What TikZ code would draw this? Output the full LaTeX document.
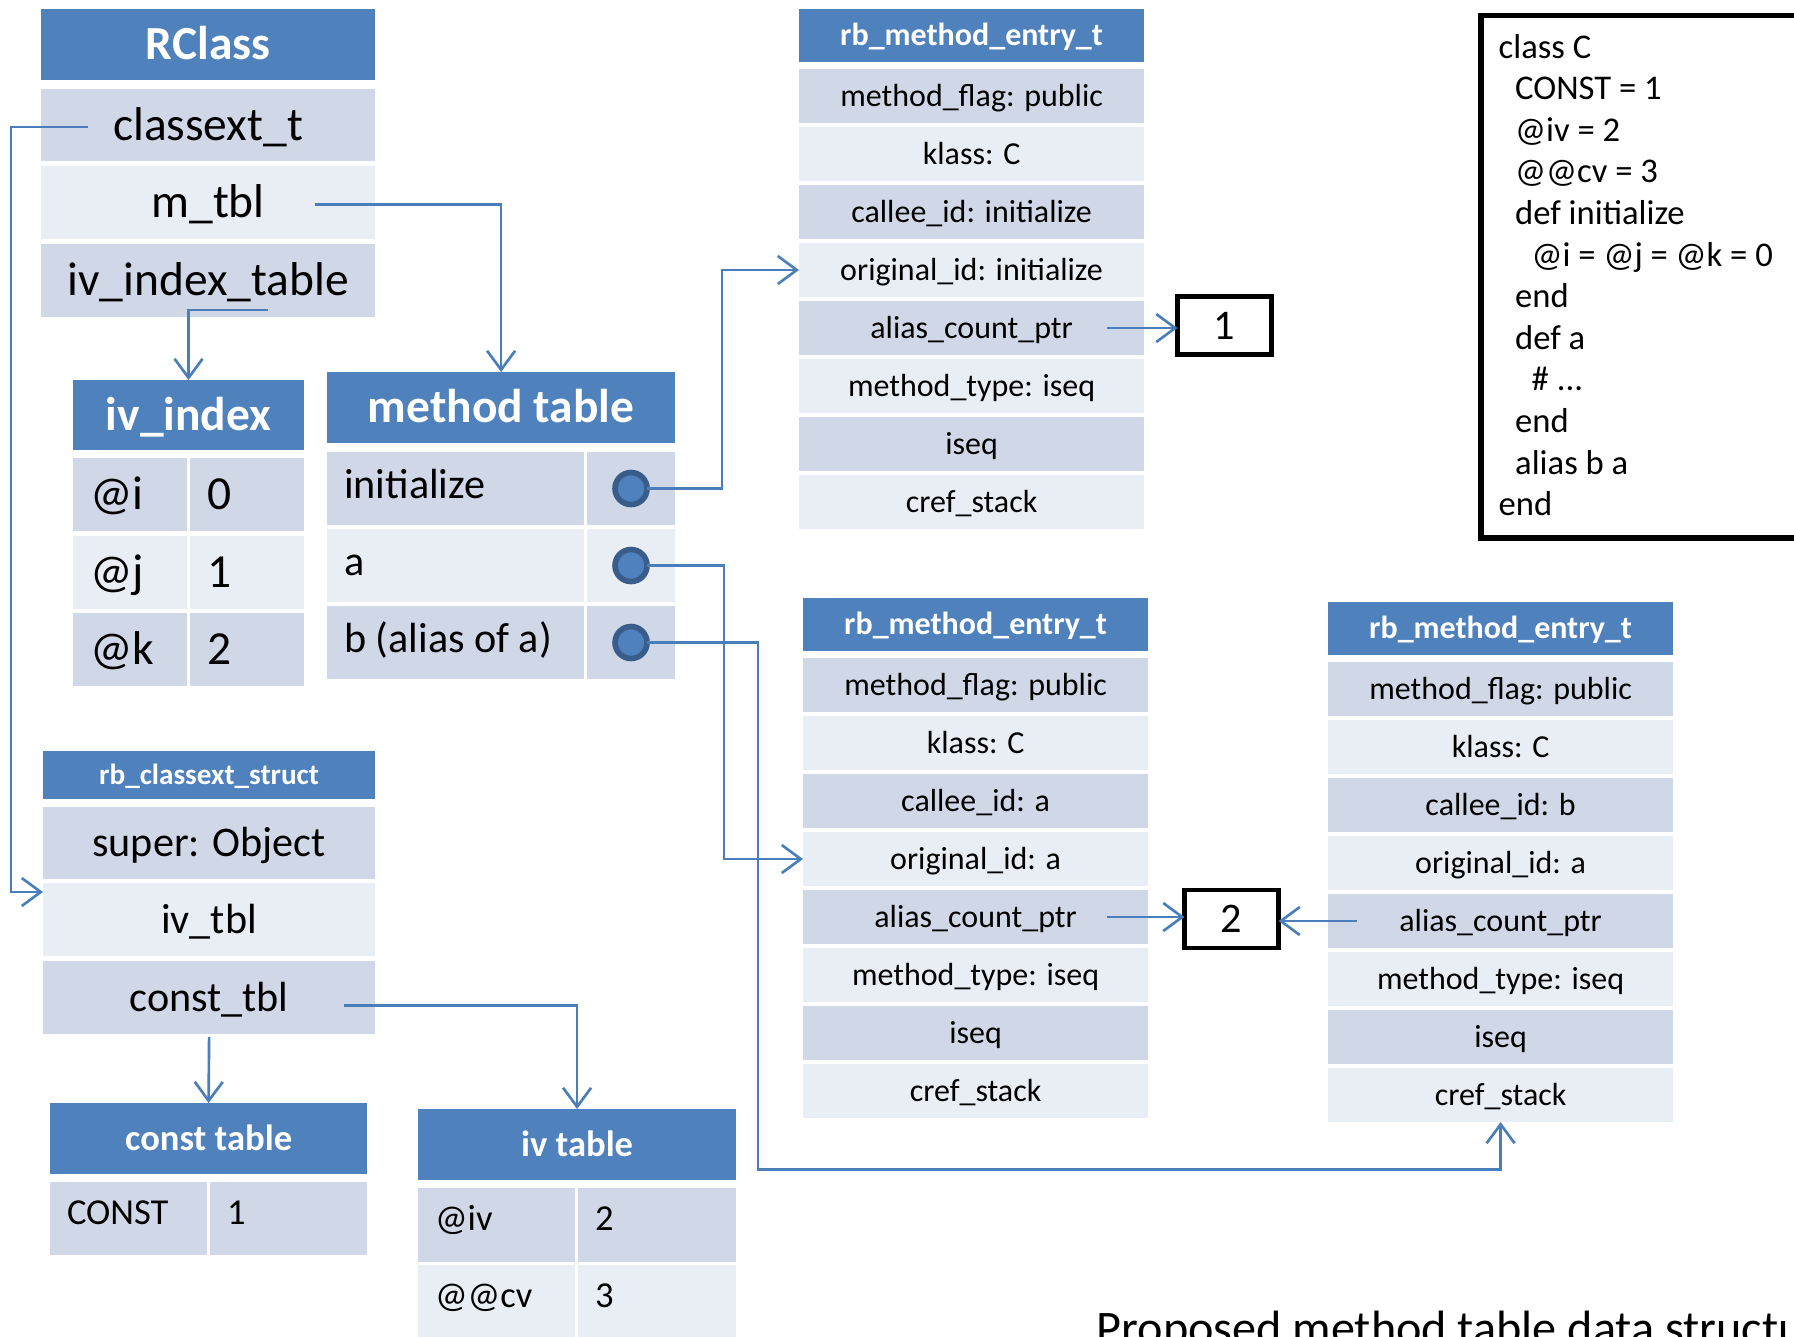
\documentclass[tikz,border=0pt]{standalone}
\usepackage{fontspec}
\setmainfont{Carlito}
\usetikzlibrary{arrows.meta,calc,positioning}
\definecolor{hdrBlue}{HTML}{4F81BD}
\definecolor{rowDark}{HTML}{D0D8E8}
\definecolor{rowLight}{HTML}{E9EDF4}
\definecolor{ptrBlue}{HTML}{4A7EBB}
\definecolor{slotEdge}{HTML}{385D8A}
\newcommand{\fsBig}{\fontsize{13.5}{16}\selectfont}
\newcommand{\fsMid}{\fontsize{12}{14.5}\selectfont}
\newcommand{\fsTab}{\fontsize{10.4}{12.5}\selectfont}
\newcommand{\fsCode}{\fontsize{9.85}{12}\selectfont}
\newcommand{\fsEntry}{\fontsize{9.1}{11}\selectfont}
\newcommand{\fsStruct}{\fontsize{8.3}{10}\selectfont}
\newcommand{\fsCap}{\fontsize{13.7}{16.5}\selectfont}
\newcommand{\cellstrut}{\rule[-0.26em]{0pt}{1.16em}}
\newcommand{\codeDots}{\# ...}
\tikzset{
	cell/.style={inner sep=0, outer sep=0, anchor=north west,
		execute at begin node=\cellstrut},
	lift/.style={execute at begin node={\rule[-#1]{0pt}{\dimexpr 0.9em+#1\relax}}},
	hdr/.style={cell, lift=0.12em, fill=hdrBlue, text=white},
	lcell/.style={cell, align=flush left, inner xsep=0.17cm, text width=#1},
	slot/.style={circle, fill=hdrBlue, draw=slotEdge, line width=1.6pt,
		minimum size=0.32cm, inner sep=0, outer sep=0},
	cntbox/.style={draw, line width=1.4pt, minimum width=0.94cm,
		minimum height=0.58cm, font=\fsMid, inner sep=0, outer sep=0},
	ptr/.style={draw=ptrBlue, line width=0.75pt,
		-{Straight Barb[length=1.9mm,width=2.8mm]}}
}

\begin{document}
\begin{tikzpicture}[x=0.01cm, y=-0.01cm]
	\useasboundingbox (0,0) rectangle (1794,1336);
	
	% RClass
	\node[hdr, font=\fsBig\bfseries, minimum width=3.34cm, minimum height=0.71cm] (rclass) at (41,9) {RClass};
	\node[cell, fill=rowDark, font=\fsBig, minimum width=3.34cm, minimum height=0.72cm] (rcExt) at (41,89) {classext\_t};
	\node[cell, fill=rowLight, font=\fsBig, minimum width=3.34cm, minimum height=0.73cm] (rcMtbl) at (41,166) {m\_tbl};
	\node[cell, fill=rowDark, font=\fsBig, minimum width=3.34cm, minimum height=0.73cm] (rcIvIdx) at (41,244) {iv\_index\_table};
	
	% iv_index
	\node[hdr, font=\fsBig\bfseries, minimum width=2.31cm, minimum height=0.70cm] (ivIdx) at (73,380) {iv\_index};
	\foreach \nm/\val/\rc [count=\i from 0] in {@i/0/rowDark, @j/1/rowLight, @k/2/rowDark} {
		\node[lcell=0.8cm, fill=\rc, font=\fsBig, minimum height=0.73cm] (ivName\i) at (73,458+77.5*\i) {\nm};
		\node[lcell=0.8cm, fill=\rc, font=\fsBig, minimum height=0.73cm] (ivVal\i) at (190,458+77.5*\i) {\val};
	}
	
	% method table
	\node[hdr, font=\fsBig\bfseries, minimum width=3.48cm, minimum height=0.71cm] (mtab) at (327,372) {method table};
	\foreach \nm/\rc [count=\i from 0] in {initialize/rowDark, a/rowLight, b (alias of a)/rowDark} {
		\node[lcell=2.23cm, lift=0.42em, fill=\rc, font=\fsMid, minimum height=0.73cm] (mName\i) at (327,452+77*\i) {\nm};
		\node[cell, fill=\rc, minimum width=0.88cm, minimum height=0.73cm] (mVal\i) at (587,452+77*\i) {};
		\node[slot] (slot\i) at (mVal\i) {};
	}
	
	% rb_classext_struct
	\node[hdr, font=\fsStruct\bfseries, minimum width=3.32cm, minimum height=0.48cm] (cext) at (43,751) {rb\_classext\_struct};
	\node[cell, fill=rowDark, font=\fsMid, minimum width=3.32cm, minimum height=0.72cm] (cxSuper) at (43,807) {super: Object};
	\node[cell, fill=rowLight, font=\fsMid, minimum width=3.32cm, minimum height=0.73cm] (cxIv) at (43,883) {iv\_tbl};
	\node[cell, fill=rowDark, font=\fsMid, minimum width=3.32cm, minimum height=0.73cm] (cxConst) at (43,961) {const\_tbl};
	
	% const table / iv table
	\node[hdr, font=\fsTab\bfseries, minimum width=3.17cm, minimum height=0.71cm] (ctab) at (50,1103) {const table};
	\node[lcell=1.23cm, lift=0.58em, fill=rowDark, font=\fsTab, minimum height=0.73cm] (cName) at (50,1182) {CONST};
	\node[lcell=1.23cm, lift=0.58em, fill=rowDark, font=\fsTab, minimum height=0.73cm] (cVal) at (210,1182) {1};
	
	\node[hdr, font=\fsTab\bfseries, minimum width=3.18cm, minimum height=0.71cm] (ivtab) at (418,1109) {iv table};
	\foreach \nm/\val/\rc [count=\i from 0] in {@iv/2/rowDark, @@cv/3/rowLight} {
		\node[lcell=1.23cm, lift=0.58em, fill=\rc, font=\fsTab, minimum height=0.74cm] (ivtName\i) at (418,1188+77*\i) {\nm};
		\node[lcell=1.24cm, lift=0.58em, fill=\rc, font=\fsTab, minimum height=0.74cm] (ivtVal\i) at (578,1188+77*\i) {\val};
	}
	
	% method entries
	\foreach \me/\mx/\my/\callee/\orig in {initME/799/9/initialize/initialize, aME/803/598/a/a, bME/1328/602/b/a} {
		\node[hdr, font=\fsEntry\bfseries, minimum width=3.45cm, minimum height=0.53cm] (\me) at (\mx,\my) {rb\_method\_entry\_t};
		\foreach \fld [count=\rw from 0] in {method\_flag: public, klass: C, callee\_id: \callee, original\_id: \orig,
			alias\_count\_ptr, method\_type: iseq, iseq, cref\_stack} {
			\ifodd\rw \def\rc{rowLight}\else\def\rc{rowDark}\fi
			\node[cell, fill=\rc, font=\fsEntry, minimum width=3.45cm, minimum height=0.54cm] (\me-\rw) at (\mx,\my+60+58*\rw) {\fld};
		}
	}
	
	% alias counts
	\node[cntbox] (cnt1) at (1224.5,325.5) {1};
	\node[cntbox] (cnt2) at (1231.5,919) {2};
	
	% source code
	\node[draw, line width=1.7pt, inner sep=0, outer sep=0, anchor=north west,
		minimum width=3.3cm, minimum height=5.22cm] (codeBox) at (1481,15.5) {};
	\foreach \ind/\codeLine [count=\k from 0] in {0/class C, 1/CONST = 1, 1/@iv = 2, 1/@@cv = 3,
		1/def initialize, 2/@i = @j = @k = 0, 1/end, 1/def a, 2/\codeDots, 1/end, 1/alias b a, 0/end} {
		\node[anchor=base west, font=\fsCode, inner sep=0] (code\k) at (1498+16.5*\ind,58+41.6*\k) {\codeLine};
	}
	
	\node[anchor=base west, font=\fsCap, inner sep=0] (caption) at (1096,1344) {Proposed method table data structure};
	
	% pointers
	\draw[ptr] ($(rcExt.west)+(47,2)$) -- ++(-77,0) |- ($(cxIv.north west)+(0,9)$);
	\draw[ptr] ($(rcMtbl.east)+(-60,2)$) -| (mtab.north);
	\draw[ptr] ($(rcIvIdx.south)+(60,-7)$) -| (ivIdx.north);
	
	\draw[ptr] (slot0.east) -- ++(75,0) |- (initME-3.west);
	\draw[ptr] (slot1.east) -- ++(77,0) |- (aME-3.west);
	\draw[ptr] (slot2.east) -- ++(111,0) -- ++(0,527) -| (bME-7.south);
	
	\coordinate (fromI) at ($(initME-4.east)+(-37,0)$);
	\coordinate (fromA) at ($(aME-4.east)+(-41,0)$);
	\coordinate (fromB) at ($(bME-4.west)+(29,0)$);
	\draw[ptr] (fromI) -- (fromI -| cnt1.west);
	\draw[ptr] (fromA) -- (fromA -| cnt2.west);
	\draw[ptr] (fromB) -- (fromB -| cnt2.east);
	
	\draw[ptr] ($(cxConst.east)+(-31,8)$) -| (ivtab.north);
	\draw[ptr] ($(cxConst.south)+(0,3)$) -- (ctab.north);
\end{tikzpicture}
\end{document}
